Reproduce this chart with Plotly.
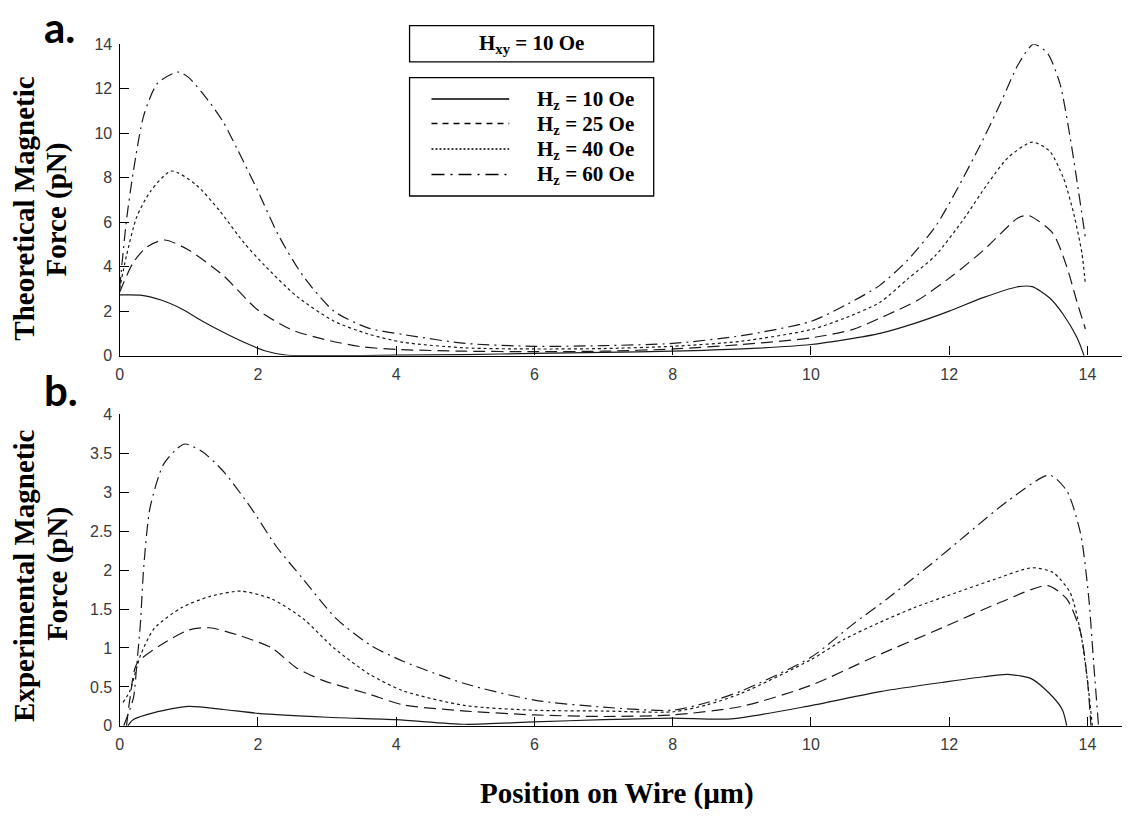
import plotly.graph_objects as go

W, H = 1133, 821

# ---------------- data ----------------
# Theoretical magnetic force (top panel)
t10_x = [0, 0.3, 0.6, 0.9, 1.2, 1.5, 1.8, 2.1, 2.4, 3, 4, 5, 6, 7, 8, 9, 10, 10.5, 11, 11.5, 12, 12.5, 13.0, 13.2, 13.45, 13.65, 13.85, 13.95]
t10_y = [2.73, 2.72, 2.5, 2.1, 1.55, 1.05, 0.6, 0.22, 0.03, 0.0, 0.02, 0.05, 0.1, 0.15, 0.2, 0.3, 0.5, 0.72, 1.0, 1.45, 2.0, 2.62, 3.1, 3.1, 2.6, 1.85, 0.8, 0.0]

t25_x = [0, 0.2, 0.4, 0.65, 1.0, 1.5, 2.0, 2.5, 3.0, 3.5, 4, 5, 6, 7, 8, 9, 10, 10.6, 11.1, 11.55, 12.05, 12.5, 13.0, 13.15, 13.5, 13.7, 13.85, 13.97]
t25_y = [2.85, 4.2, 4.9, 5.2, 4.75, 3.6, 2.05, 1.15, 0.7, 0.4, 0.28, 0.2, 0.18, 0.2, 0.3, 0.5, 0.8, 1.17, 1.83, 2.5, 3.6, 4.75, 6.2, 6.3, 5.5, 4.0, 2.4, 1.2]

t40_x = [0, 0.1, 0.25, 0.45, 0.75, 1.1, 1.45, 1.8, 2.1, 2.55, 3.1, 3.6, 4.1, 5, 6, 7, 8, 9, 10, 10.5, 11, 11.4, 11.8, 12.2, 12.55, 12.85, 13.2, 13.45, 13.65, 13.8, 13.92, 13.97]
t40_y = [3.0, 4.5, 6.25, 7.4, 8.3, 7.7, 6.5, 5.07, 4.05, 2.7, 1.55, 0.97, 0.6, 0.35, 0.3, 0.32, 0.42, 0.65, 1.17, 1.7, 2.4, 3.45, 4.5, 6.1, 7.7, 8.9, 9.6, 9.2, 8.0, 6.4, 4.6, 3.2]

t60_x = [0, 0.1, 0.2, 0.35, 0.55, 0.85, 1.0, 1.3, 1.5, 1.7, 2.0, 2.3, 2.65, 3.1, 3.6, 4.1, 5, 6, 7, 8, 9, 10, 10.5, 11, 11.4, 11.8, 12.1, 12.45, 12.75, 13.0, 13.22, 13.42, 13.6, 13.75, 13.87, 13.97]
t60_y = [3.0, 6.1, 8.3, 10.8, 12.25, 12.75, 12.5, 11.4, 10.5, 9.3, 7.4, 5.4, 3.6, 2.0, 1.24, 0.95, 0.55, 0.42, 0.45, 0.55, 0.9, 1.54, 2.27, 3.17, 4.3, 5.8, 7.4, 9.47, 11.4, 13.1, 14.0, 13.6, 12.25, 9.8, 7.4, 5.3]

# Experimental magnetic force (bottom panel)
e10_x = [0.12, 0.2, 0.5, 1.0, 1.5, 2.0, 3.0, 4.0, 5.0, 6.0, 7.0, 8.0, 8.85, 10.0, 11.0, 12.0, 12.5, 12.85, 13.2, 13.5, 13.64, 13.7]
e10_y = [0.0, 0.08, 0.17, 0.25, 0.21, 0.16, 0.11, 0.08, 0.02, 0.05, 0.08, 0.1, 0.09, 0.26, 0.44, 0.57, 0.63, 0.66, 0.6, 0.37, 0.2, 0.0]

e25_x = [0.1, 0.15, 0.25, 0.6, 1.0, 1.3, 1.7, 2.2, 2.55, 2.95, 3.6, 4.1, 5, 6, 7, 8, 9, 10, 10.9, 11.9, 12.75, 13.42, 13.7, 13.9, 14.0, 14.05]
e25_y = [0.0, 0.35, 0.8, 1.04, 1.23, 1.26, 1.17, 1.0, 0.75, 0.58, 0.41, 0.27, 0.19, 0.14, 0.12, 0.14, 0.25, 0.52, 0.88, 1.26, 1.59, 1.8, 1.63, 1.2, 0.58, 0.0]

e40_x = [0.05, 0.15, 0.3, 0.5, 0.9, 1.3, 1.75, 2.2, 2.65, 3.1, 3.6, 4.1, 5, 6, 7, 8, 8.5, 9, 10, 10.5, 11, 11.5, 12.1, 12.65, 13.2, 13.5, 13.75, 13.9, 14.0, 14.07]
e40_y = [0.3, 0.45, 0.9, 1.25, 1.52, 1.66, 1.73, 1.63, 1.38, 1.0, 0.67, 0.45, 0.26, 0.2, 0.19, 0.18, 0.27, 0.42, 0.85, 1.12, 1.33, 1.52, 1.71, 1.88, 2.03, 1.97, 1.71, 1.2, 0.58, 0.0]

e60_x = [0.06, 0.2, 0.25, 0.3, 0.35, 0.44, 0.63, 0.83, 0.95, 1.2, 1.5, 1.9, 2.27, 2.65, 3.13, 3.62, 4.1, 5, 6, 7, 8, 8.5, 9, 10, 10.6, 11.1, 11.7, 12.27, 12.85, 13.45, 13.7, 13.9, 14.02, 14.09, 14.16]
e60_y = [0.0, 0.36, 0.8, 1.3, 2.05, 2.8, 3.35, 3.56, 3.62, 3.52, 3.27, 2.8, 2.3, 1.89, 1.38, 1.04, 0.83, 0.54, 0.33, 0.24, 0.2, 0.3, 0.45, 0.88, 1.3, 1.63, 2.05, 2.47, 2.89, 3.22, 3.02, 2.47, 1.63, 0.8, 0.0]

series_labels = ["H<sub>z</sub> = 10 Oe", "H<sub>z</sub> = 25 Oe", "H<sub>z</sub> = 40 Oe", "H<sub>z</sub> = 60 Oe"]
series_dash = ["solid", "12px,6px", "3px,3px", "12px,5px,2px,5px"]
legend_dash = ["solid", "6px,5px", "2px,2px", "13px,6px,2px,6px"]
top_ticks = [0, 2, 4, 6, 8, 10, 12, 14]
bottom_ticks = [0, 0.5, 1, 1.5, 2, 2.5, 3, 3.5, 4]
x_ticks = [0, 2, 4, 6, 8, 10, 12, 14]

top_series = [(t10_x, t10_y), (t25_x, t25_y), (t40_x, t40_y), (t60_x, t60_y)]
bottom_series = [(e10_x, e10_y), (e25_x, e25_y), (e40_x, e40_y), (e60_x, e60_y)]

# ---------------- helpers ----------------
def px(x):
    return x / W

def py(y):
    return 1 - y / H

LINE_COLOR = "#1a1a1a"

fig = go.Figure()
for (xs, ys), d, lab in zip(top_series, series_dash, series_labels):
    fig.add_trace(go.Scatter(x=xs, y=ys, mode="lines", name=lab, showlegend=False,
                             line=dict(color=LINE_COLOR, width=1.2, dash=d, shape="spline", smoothing=0.7),
                             xaxis="x", yaxis="y"))
for (xs, ys), d, lab in zip(bottom_series, series_dash, series_labels):
    fig.add_trace(go.Scatter(x=xs, y=ys, mode="lines", name=lab, showlegend=False,
                             line=dict(color=LINE_COLOR, width=1.2, dash=d, shape="spline", smoothing=0.7),
                             xaxis="x2", yaxis="y2"))

tick_font = dict(family="Liberation Sans, Arial, sans-serif", size=16, color="#3a3a3a")
common_x = dict(range=[0, 14.5], tickvals=x_ticks, ticks="inside", ticklen=9, tickwidth=1,
                tickcolor="black", showline=True, linecolor="black", linewidth=1.3,
                showgrid=False, zeroline=False, tickfont=tick_font, ticklabelstandoff=4)
common_y = dict(ticks="inside", ticklen=9, tickwidth=1, tickcolor="black", showline=True,
                linecolor="black", linewidth=1.3, showgrid=False, zeroline=False,
                tickfont=tick_font, ticklabelstandoff=3)

xd = [px(116), px(1122)]
fig.update_layout(
    width=W, height=H,
    margin=dict(l=0, r=0, t=0, b=0),
    paper_bgcolor="white", plot_bgcolor="white",
    xaxis=dict(domain=xd, anchor="y", **common_x),
    yaxis=dict(domain=[py(355), py(37)], anchor="x", range=[0, 14], tickvals=top_ticks, **common_y),
    xaxis2=dict(domain=xd, anchor="y2", **common_x),
    yaxis2=dict(domain=[py(733), py(415)], anchor="x2", range=[0, 4], tickvals=bottom_ticks, **common_y),
    showlegend=False,
)

serif_bold = "Liberation Serif, Times New Roman, serif"
anns = []
# axis titles (two lines each)
for txt, xc, yc in [("Theoretical Magnetic", 20, 204), ("Force (pN)", 53, 206),
                    ("Experimental Magnetic", 20, 580), ("Force (pN)", 53, 578)]:
    anns.append(dict(text="<b>" + txt + "</b>", x=px(xc), y=py(yc), xref="paper", yref="paper",
                     textangle=-90, showarrow=False, xanchor="center", yanchor="middle",
                     font=dict(family=serif_bold, size=29, color="black")))
anns.append(dict(text="<b>Position on Wire (µm)</b>", x=px(615), y=py(802), xref="paper", yref="paper",
                 showarrow=False, xanchor="center", yanchor="middle",
                 font=dict(family=serif_bold, size=29, color="black")))
# panel letters
for txt, yc in [("a.", 19), ("b.", 390)]:
    anns.append(dict(text="<b>" + txt + "</b>", x=px(38), y=py(yc), xref="paper", yref="paper",
                     showarrow=False, xanchor="left", yanchor="middle",
                     font=dict(family="Lato, Liberation Sans, sans-serif", size=42, color="black")))
# legend boxes
shapes = []
shapes.append(dict(type="rect", xref="paper", yref="paper", x0=px(407), x1=px(652), y0=py(55), y1=py(18),
                   line=dict(color="black", width=1.3), fillcolor="white"))
anns.append(dict(text="<b>H<sub>xy</sub> = 10 Oe</b>", x=px(529), y=py(37), xref="paper", yref="paper",
                 showarrow=False, xanchor="center", yanchor="middle",
                 font=dict(family=serif_bold, size=21, color="black")))
shapes.append(dict(type="rect", xref="paper", yref="paper", x0=px(407), x1=px(652), y0=py(192), y1=py(71),
                   line=dict(color="black", width=1.3), fillcolor="white"))
rows = [93, 118, 144, 170]
for yr, lab, d in zip(rows, series_labels, legend_dash):
    shapes.append(dict(type="line", xref="paper", yref="paper", x0=px(429), x1=px(507), y0=py(yr), y1=py(yr),
                       line=dict(color="black", width=1.6, dash=d)))
    anns.append(dict(text="<b>" + lab + "</b>", x=px(533), y=py(yr + 1), xref="paper", yref="paper",
                     showarrow=False, xanchor="left", yanchor="middle",
                     font=dict(family=serif_bold, size=21, color="black")))

fig.update_layout(annotations=anns, shapes=shapes)
fig.write_html("out.html")
